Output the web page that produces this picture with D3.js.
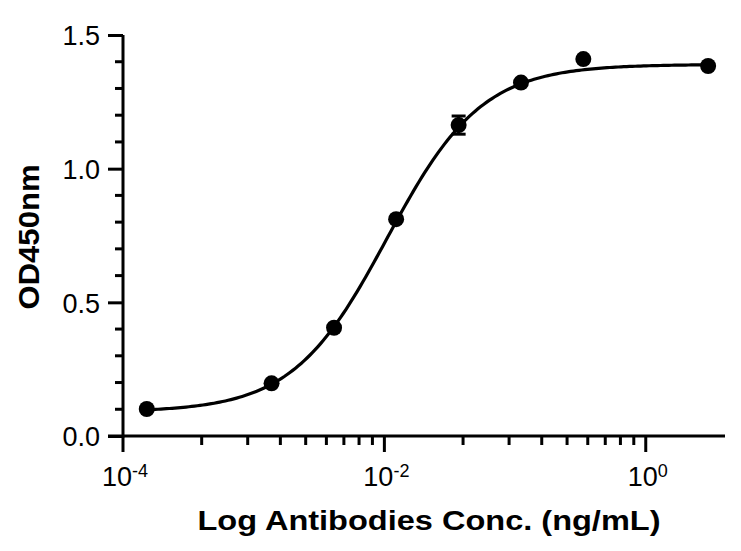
<!DOCTYPE html>
<html>
<head>
<meta charset="utf-8">
<script src="https://cdn.jsdelivr.net/npm/d3@7"></script>
<style>
  html, body { margin: 0; padding: 0; background: #fff; }
  svg { display: block; }
  text { font-family: "Liberation Sans", Arial, Helvetica, sans-serif; fill: #000; }
</style>
</head>
<body>
<svg id="chart" width="741" height="551"></svg>
<script>
// ---- data ----
const concentrations = [0.000152, 0.00137, 0.00412, 0.0123, 0.037, 0.111, 0.333, 3];
const od450 = [0.101, 0.197, 0.405, 0.811, 1.163, 1.322, 1.410, 1.384];
const errorSD = [0, 0, 0, 0, 0.034, 0, 0, 0];
const yTickValues = [0, 0.5, 1.0, 1.5];
const yTickLabels = ["0.0", "0.5", "1.0", "1.5"];
const xTickExponents = [-4, -2, 0];
// four-parameter logistic fit
const fitBottom = 0.09, fitTop = 1.39, fitEC50 = 0.0105, fitHill = 1.2;

const svg = d3.select("#chart");
const x = d3.scaleLog().domain([1e-4, 4.04]).range([123, 725]);
const y = d3.scaleLinear().domain([0, 1.5]).range([436, 35]);

const axisW = 3;

// ---- Y axis ----
const gy = svg.append("g").attr("transform", `translate(${x.range()[0]},0)`);
gy.call(d3.axisLeft(y).tickValues(yTickValues).tickSize(15).tickPadding(8)
  .tickFormat((d, i) => yTickLabels[i]));
gy.select(".domain").attr("d", `M0,${y(1.5)}V${y(0) + axisW / 2}`)
  .attr("stroke", "#000").attr("stroke-width", axisW).attr("fill", "none");
gy.selectAll(".tick line").attr("stroke", "#000").attr("stroke-width", axisW);
gy.selectAll(".tick text").attr("font-size", 27).attr("dy", "0.36em");
const yMinor = d3.range(0, 1.5001, 0.1).filter(v => Math.abs(v * 2 - Math.round(v * 2)) > 1e-6);
gy.selectAll("line.minor").data(yMinor).join("line").attr("class", "minor")
  .attr("x1", -8).attr("x2", 0).attr("y1", d => y(d)).attr("y2", d => y(d))
  .attr("stroke", "#000").attr("stroke-width", axisW);

// ---- X axis ----
const gx = svg.append("g").attr("transform", `translate(0,${y(0)})`);
gx.append("line").attr("x1", x.range()[0] - 15).attr("x2", x.range()[1])
  .attr("y1", 0).attr("y2", 0).attr("stroke", "#000").attr("stroke-width", axisW);
gx.selectAll("line.major").data(xTickExponents).join("line").attr("class", "major")
  .attr("x1", d => x(Math.pow(10, d))).attr("x2", d => x(Math.pow(10, d)))
  .attr("y1", 0).attr("y2", 16).attr("stroke", "#000").attr("stroke-width", axisW);
const xMinor = [];
for (let i = 0; i < xTickExponents.length - 1; i++) {
  const e0 = xTickExponents[i], e1 = xTickExponents[i + 1];
  for (let k = 2; k <= 9; k++) xMinor.push(Math.pow(10, e0 + (e1 - e0) * Math.log10(k)));
}
gx.selectAll("line.minor").data(xMinor).join("line").attr("class", "minor")
  .attr("x1", d => x(d)).attr("x2", d => x(d))
  .attr("y1", 0).attr("y2", 9).attr("stroke", "#000").attr("stroke-width", axisW);
const xl = gx.selectAll("text.tl").data(xTickExponents).join("text").attr("class", "tl")
  .attr("x", d => x(Math.pow(10, d)) + 2).attr("y", 50).attr("text-anchor", "middle")
  .attr("font-size", 27);
xl.append("tspan").text("10");
xl.append("tspan").attr("font-size", 18).attr("dy", -9).text(d => String(d));

// ---- axis titles ----
svg.append("text").attr("x", 429).attr("y", 530).attr("text-anchor", "middle")
  .attr("font-size", 28).attr("font-weight", "bold")
  .attr("textLength", 463).attr("lengthAdjust", "spacingAndGlyphs")
  .text("Log Antibodies Conc. (ng/mL)");
svg.append("text").attr("transform", "translate(39,237) rotate(-90)").attr("text-anchor", "middle")
  .attr("font-size", 29).attr("font-weight", "bold")
  .attr("textLength", 145).attr("lengthAdjust", "spacingAndGlyphs")
  .text("OD450nm");

// ---- fitted curve ----
const fit = c => fitBottom + (fitTop - fitBottom) / (1 + Math.pow(fitEC50 / c, fitHill));
const lo = Math.log10(d3.min(concentrations)), hi = Math.log10(d3.max(concentrations));
const curvePts = d3.range(0, 201).map(i => Math.pow(10, lo + (hi - lo) * i / 200));
svg.append("path").datum(curvePts)
  .attr("d", d3.line().x(d => x(d)).y(d => y(fit(d))))
  .attr("fill", "none").attr("stroke", "#000").attr("stroke-width", 3.2);

// ---- error bars ----
const pts = concentrations.map((c, i) => ({ c, v: od450[i], e: errorSD[i] }));
const eb = svg.append("g").selectAll("g").data(pts.filter(d => d.e > 0)).join("g");
eb.append("line").attr("x1", d => x(d.c)).attr("x2", d => x(d.c))
  .attr("y1", d => y(d.v - d.e)).attr("y2", d => y(d.v + d.e)).attr("stroke", "#000").attr("stroke-width", 3);
[1, -1].forEach(s => {
  eb.append("line").attr("x1", d => x(d.c) - 7).attr("x2", d => x(d.c) + 7)
    .attr("y1", d => y(d.v + s * d.e)).attr("y2", d => y(d.v + s * d.e))
    .attr("stroke", "#000").attr("stroke-width", 3);
});

// ---- points ----
svg.append("g").selectAll("circle").data(pts).join("circle")
  .attr("cx", d => x(d.c)).attr("cy", d => y(d.v)).attr("r", 8).attr("fill", "#000");
</script>
</body>
</html>
